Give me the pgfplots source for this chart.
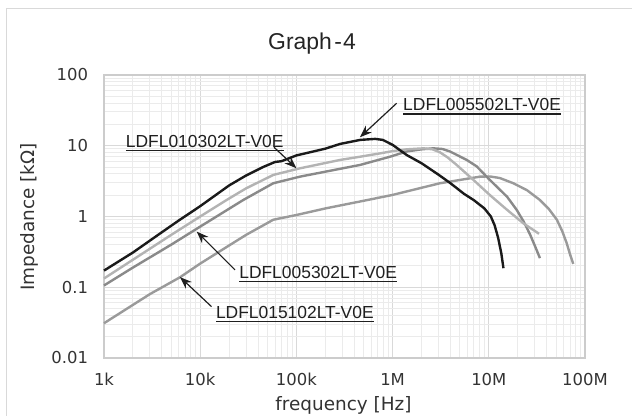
\documentclass[border=0pt]{standalone}
\usepackage{pgfplots}
\pgfplotsset{compat=1.18}
\usepackage{fontspec}
\setmainfont{DejaVu Sans}
\newfontfamily\labfont{Liberation Sans}
\usetikzlibrary{arrows.meta}

\definecolor{cA}{HTML}{1A1A1A}
\definecolor{cB}{HTML}{B3B3B3}
\definecolor{cC}{HTML}{8A8A8A}
\definecolor{cD}{HTML}{9A9A9A}
\definecolor{gmaj}{HTML}{D9D9D9}
\definecolor{gmin}{HTML}{EBEBEB}
\definecolor{frame}{HTML}{CCCCCC}
\definecolor{txt}{HTML}{333333}

% impedance curves, f [Hz] vs Z [kOhm]
\pgfplotstableread{
f Z
1000 0.172
2000 0.31
4000 0.6
6000 0.88
10000 1.4
20000 2.75
30000 3.8
45000 5.0
60000 5.9
70000 6.05
85000 6.7
100000 7.3
150000 8.3
200000 9.1
284000 10.6
460000 12.1
660000 12.5
790000 12.1
1000000 10.3
1400000 7.4
2000000 5.66
3000000 3.9
4000000 2.95
5500000 2.1
7000000 1.7
9000000 1.3
10500000 1.0
11500000 0.75
12500000 0.5
13500000 0.3
14200000 0.186
}\tabA
\pgfplotstableread{
f Z
1000 0.133
2000 0.245
5000 0.55
10000 1.0
18800 1.71
30000 2.5
57500 3.87
109000 4.8
284000 6.3
460000 7.0
740000 7.8
1000000 8.4
1400000 8.9
2100000 9.2
2600000 8.9
3100000 8.1
3700000 6.9
4600000 5.4
6900000 3.3
10300000 2.0
15300000 1.26
22900000 0.8
33300000 0.57
}\tabB
\pgfplotstableread{
f Z
1000 0.106
2000 0.19
5000 0.4
10000 0.72
28000 1.71
57500 2.95
109000 3.66
200000 4.3
460000 5.36
940000 7.0
1400000 8.3
2000000 8.9
2650000 9.2
3300000 9.0
3950000 8.3
5900000 6.3
7500000 5.1
10000000 3.4
12100000 2.64
15500000 1.9
19500000 1.24
23000000 0.85
26800000 0.56
30500000 0.37
34000000 0.258
}\tabC
\pgfplotstableread{
f Z
1000 0.031
3000 0.08
6200 0.139
10000 0.216
20000 0.39
30000 0.55
57500 0.9
100000 1.05
200000 1.3
460000 1.63
1000000 2.02
3100000 2.95
8100000 3.66
10300000 3.68
13000000 3.5
18000000 2.95
25000000 2.35
34000000 1.71
42000000 1.28
51000000 0.9
58000000 0.62
64500000 0.42
70000000 0.29
75500000 0.214
}\tabD

\tikzset{lead/.style={draw=txt!60!black, line width=1.2bp,
  arrows={-Stealth[length=12bp,width=9bp,fill=txt!60!black]}}}

\begin{document}
\begin{tikzpicture}
\useasboundingbox (-104bp,-58bp) rectangle (528bp,358bp);
\draw[gmaj, line width=1.3bp] (-97.7bp,-62bp) -- (-97.7bp,349.3bp) -- (532bp,349.3bp);
\begin{axis}[
  at={(0,0)}, anchor=south west,
  scale only axis, width=481bp, height=283bp,
  xmode=log, ymode=log,
  xmin=1e3, xmax=1e8, ymin=0.01, ymax=100,
  xtick={1e3,1e4,1e5,1e6,1e7,1e8},
  xticklabels={1k,10k,100k,1M,10M,100M},
  ytick={0.01,0.1,1,10,100},
  yticklabels={0.01,0.1,1,10,100},
  minor xtick={2e3,3e3,4e3,5e3,6e3,7e3,8e3,9e3,2e4,3e4,4e4,5e4,6e4,7e4,8e4,9e4,
    2e5,3e5,4e5,5e5,6e5,7e5,8e5,9e5,2e6,3e6,4e6,5e6,6e6,7e6,8e6,9e6,
    2e7,3e7,4e7,5e7,6e7,7e7,8e7,9e7},
  minor ytick={0.02,0.03,0.04,0.05,0.06,0.07,0.08,0.09,0.2,0.3,0.4,0.5,0.6,0.7,0.8,0.9,
    2,3,4,5,6,7,8,9,20,30,40,50,60,70,80,90},
  grid=both,
  major grid style={draw=gmaj, line width=1bp},
  minor grid style={draw=gmin, line width=1bp},
  axis line style={draw=frame, line width=1.1bp},
  tick style={draw=none},
  major tick length=0pt, minor tick length=0pt,
  xticklabel style={font=\fontsize{16.5}{19}\selectfont, text=txt, yshift=-11.5bp},
  yticklabel style={font=\fontsize{16.5}{19}\selectfont, text=txt, xshift=-12.5bp},
  clip=false,
  every axis plot/.append style={line width=2.4bp, no markers, line join=round},
]
\addplot[cD] table {\tabD};
\addplot[cC] table {\tabC};
\addplot[cB] table {\tabB};
\addplot[cA] table {\tabA};

\begin{scope}[every node/.style={anchor=base west, inner sep=0pt, outer sep=0pt,
    text=txt!60!black, font=\labfont\fontsize{17.5}{20}\selectfont}]
\node (l1) at (axis cs:1.29e6,31.3) {LDFL005502LT-V0E};
\node (l2) at (axis cs:1.69e3,9.53) {LDFL010302LT-V0E};
\node (l3) at (axis cs:2.55e4,0.134) {LDFL005302LT-V0E};
\node (l4) at (axis cs:1.46e4,0.0366) {LDFL015102LT-V0E};
\end{scope}
\draw[txt!60!black, line width=1.8bp] ([yshift=-3.3bp]l1.base west) -- ([yshift=-3.3bp]l1.base east);
\draw[txt!60!black, line width=1.8bp] ([yshift=-3.3bp]l2.base west) -- ([yshift=-3.3bp]l2.base east);
\draw[txt!60!black, line width=1.8bp] ([yshift=-3.3bp]l3.base west) -- ([yshift=-3.3bp]l3.base east);
\draw[txt!60!black, line width=1.8bp] ([yshift=-3.3bp]l4.base west) -- ([yshift=-3.3bp]l4.base east);

\draw[lead] (axis cs:1.1e6,39.8) -- (axis cs:4.58e5,13.2);
\draw[lead] (axis cs:5.85e4,9.53) -- (axis cs:1.0e5,4.81);
\draw[lead] (axis cs:2.3e4,0.176) -- (axis cs:9.2e3,0.612);
\draw[lead] (axis cs:1.31e4,0.0533) -- (axis cs:6.17e3,0.139);
\end{axis}

\node[font=\labfont\fontsize{23}{26}\selectfont, text=txt!70!black] at (208bp,314bp) {Graph\kern2.5bp-\kern1bp4};
\node[font=\fontsize{18.5}{22}\selectfont, text=txt, rotate=90] at (-75bp,141bp) {Impedance [kΩ]};
\node[font=\fontsize{18.5}{22}\selectfont, text=txt] at (239.5bp,-47bp) {frequency [Hz]};
\end{tikzpicture}
\end{document}
